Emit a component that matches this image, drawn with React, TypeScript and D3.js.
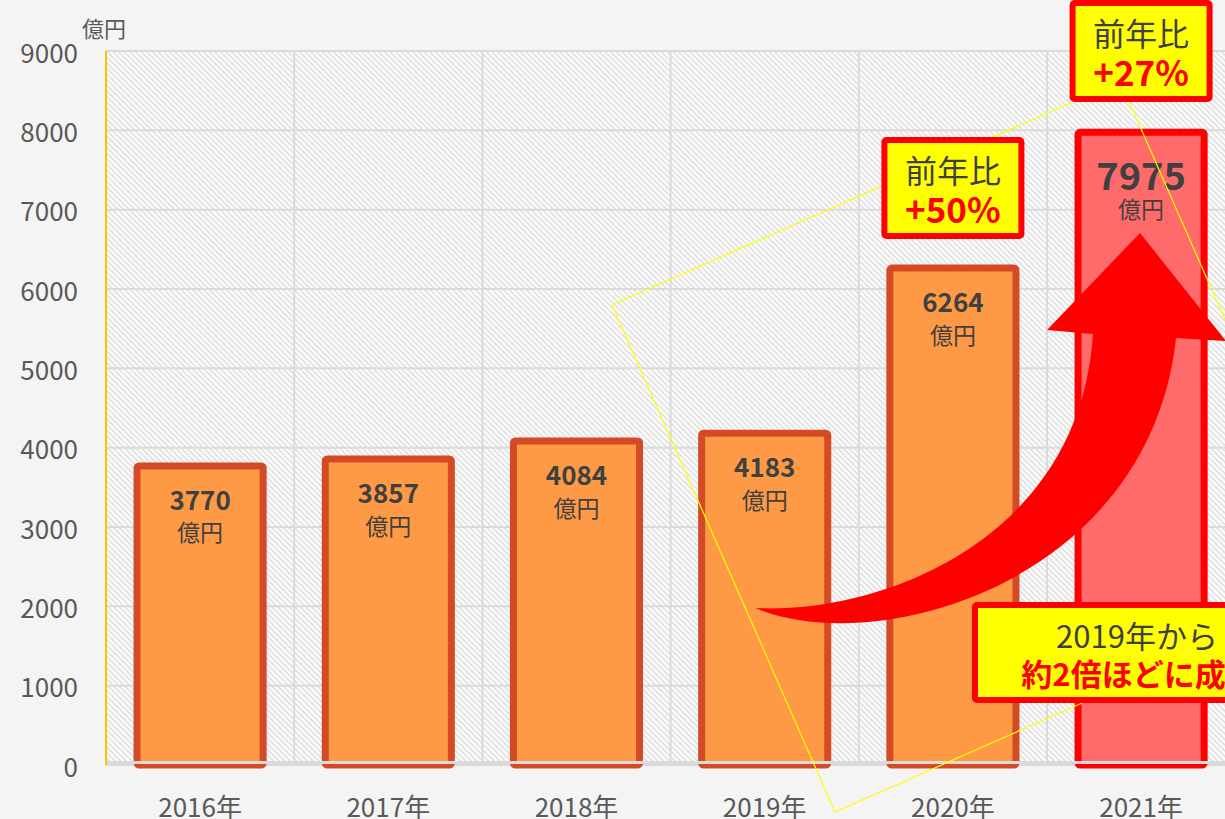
import React from "react";
import * as d3 from "d3";

const years = ["2016年", "2017年", "2018年", "2019年", "2020年", "2021年"];
const sales = [3770, 3857, 4084, 4183, 6264, 7975];
const yTicks = [0, 1000, 2000, 3000, 4000, 5000, 6000, 7000, 8000, 9000];
const unitLabel = "億円";
const callouts = [
  { year: "2020年", top: "前年比", bottom: "+50%" },
  { year: "2021年", top: "前年比", bottom: "+27%" },
];
const summaryLines = ["2019年から", "約2倍ほどに成長"];

const W = 1225;
const H = 819;
const FONT = "'Noto Sans CJK JP', 'Noto Sans', sans-serif";

export default function App() {
  const left = 106;
  const step = 188.2;
  const x = d3
    .scaleBand<string>()
    .domain(years)
    .range([left, left + step * years.length])
    .paddingInner(0.33)
    .paddingOuter(0.165);
  const y = d3.scaleLinear().domain([0, 9000]).range([765, 51]);
  const plotRight = left + step * years.length;
  const bw = x.bandwidth();

  // curved arrow path (decorative)
  const arrowPath = d3.path();
  arrowPath.moveTo(755, 608);
  arrowPath.bezierCurveTo(880, 660, 1150, 580, 1176, 338);
  arrowPath.lineTo(1226, 341);
  arrowPath.lineTo(1140, 233);
  arrowPath.lineTo(1047, 330);
  arrowPath.lineTo(1093, 334);
  arrowPath.bezierCurveTo(1080, 540, 880, 615, 755, 608);
  arrowPath.closePath();

  const quad = [
    [612, 305],
    [1120, 81],
    [1343, 588],
    [835, 812],
  ];

  const cx = (yr: string) => (x(yr) as number) + bw / 2;

  return (
    <svg
      width={W}
      height={H}
      style={{ position: "fixed", left: 0, top: 0, fontFamily: FONT }}
    >
      <defs>
        <pattern
          id="hatch"
          width="4"
          height="4"
          patternUnits="userSpaceOnUse"
          patternTransform="rotate(45)"
        >
          <rect width="4" height="4" fill="#FDFDFD" />
          <line x1="0" y1="0.75" x2="4" y2="0.75" stroke="#DCDCDC" strokeWidth="1.5" />
        </pattern>
      </defs>
      <rect width={W} height={H} fill="#F4F4F4" />
      {/* plot area */}
      <rect x={left} y={y(9000)} width={plotRight - left} height={y(0) - y(9000)} fill="url(#hatch)" />
      {/* grid */}
      {yTicks.map((t) => (
        <line key={"h" + t} x1={left} x2={plotRight} y1={y(t)} y2={y(t)} stroke="#DADADA" strokeWidth={2} />
      ))}
      {years.map((yr, i) => (
        <line
          key={"v" + yr}
          x1={left + step * (i + 1)}
          x2={left + step * (i + 1)}
          y1={y(9000)}
          y2={y(0)}
          stroke="#DADADA"
          strokeWidth={2}
        />
      ))}
      {/* y tick labels */}
      {yTicks.map((t) => (
        <text
          key={"t" + t}
          x={78}
          y={y(t)}
          textAnchor="end"
          dominantBaseline="central"
          fontSize={26}
          fill="#595959"
        >
          {t}
        </text>
      ))}
      <text x={82} y={27} dominantBaseline="central" fontSize={22} fill="#595959">
        {unitLabel}
      </text>
      {/* bars */}
      {years.map((yr, i) => {
        const last = i === years.length - 1;
        return (
          <rect
            key={"b" + yr}
            x={x(yr)}
            y={y(sales[i])}
            width={bw}
            height={y(0) - y(sales[i])}
            fill={last ? "#FF6A6A" : "#FE9A46"}
            stroke={last ? "#FF0000" : "#D34A25"}
            strokeWidth={7}
            rx={2}
          />
        );
      })}
      {/* x axis line */}
      <line x1={left} x2={plotRight} y1={762.5} y2={762.5} stroke="#DADADA" strokeWidth={3} />
      <line x1={left} x2={left} y1={y(9000)} y2={y(0)} stroke="#FFC000" strokeWidth={2} />
      {/* x labels */}
      {years.map((yr) => (
        <text
          key={"xl" + yr}
          x={cx(yr)}
          y={805}
          textAnchor="middle"
          dominantBaseline="central"
          fontSize={26}
          fill="#595959"
        >
          {yr}
        </text>
      ))}
      {/* value labels */}
      {years.map((yr, i) => {
        const last = i === years.length - 1;
        const top = y(sales[i]) - 3.5;
        return (
          <g key={"vl" + yr}>
            <text
              x={cx(yr)}
              y={top + (last ? 45 : 36)}
              textAnchor="middle"
              dominantBaseline="central"
              fontSize={last ? 38 : 26}
              fontWeight="bold"
              fill="#404040"
            >
              {sales[i]}
            </text>
            <text
              x={cx(yr)}
              y={top + (last ? 79 : 69)}
              textAnchor="middle"
              dominantBaseline="central"
              fontSize={23}
              fill="#404040"
            >
              {unitLabel}
            </text>
          </g>
        );
      })}
      {/* decorative yellow rectangle */}
      <polygon
        points={quad.map((p) => p.join(",")).join(" ")}
        fill="none"
        stroke="#FFFF00"
        strokeWidth={1.2}
      />
      {/* red arrow */}
      <path d={arrowPath.toString()} fill="#FF0000" />
      {/* callouts */}
      {callouts.map((c, i) => {
        const ccx = cx(c.year);
        const boxTop = i === 0 ? 140 : 3;
        const boxH = 96;
        const boxW = 137;
        return (
          <g key={"c" + i}>
            <rect
              x={ccx - boxW / 2}
              y={boxTop}
              width={boxW}
              height={boxH}
              fill="#FFFF00"
              stroke="#FF0000"
              strokeWidth={6}
              rx={2}
            />
            <text
              x={ccx}
              y={boxTop + 29}
              textAnchor="middle"
              dominantBaseline="central"
              fontSize={32}
              fill="#404040"
            >
              {c.top}
            </text>
            <text
              x={ccx}
              y={boxTop + 67}
              textAnchor="middle"
              dominantBaseline="central"
              fontSize={35}
              fontWeight="bold"
              fill="#FF0000"
            >
              {c.bottom}
            </text>
          </g>
        );
      })}
      {/* summary callout */}
      <g>
        <rect
          x={975}
          y={605}
          width={330}
          height={95}
          fill="#FFFF00"
          stroke="#FF0000"
          strokeWidth={6}
          rx={2}
        />
        <text
          x={1137}
          y={634}
          textAnchor="middle"
          dominantBaseline="central"
          fontSize={31}
          fill="#404040"
        >
          {summaryLines[0]}
        </text>
        <text
          x={1139}
          y={672}
          textAnchor="middle"
          dominantBaseline="central"
          fontSize={31}
          fontWeight="bold"
          fill="#FF0000"
        >
          {summaryLines[1]}
        </text>
      </g>
    </svg>
  );
}
